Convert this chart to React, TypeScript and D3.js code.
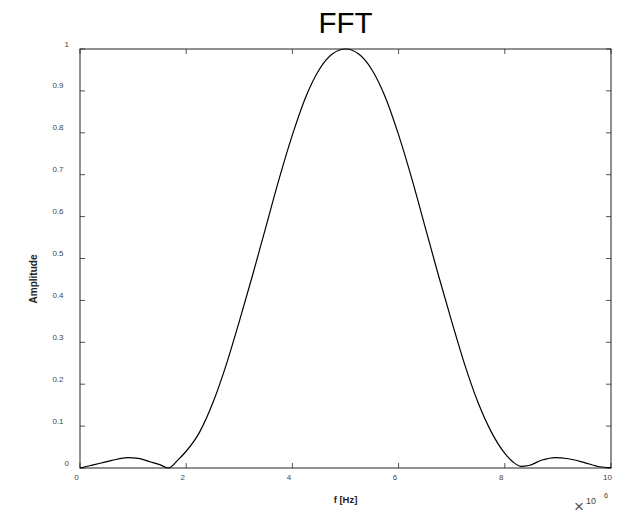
import React from "react";
import * as d3 from "d3";

const freqMHz = [0, 0.2, 0.4, 0.6, 0.9, 1.1, 1.32, 1.5, 1.67, 1.85, 2.0, 2.25, 2.5, 2.75, 3.0, 3.25, 3.5, 3.75, 4.0, 4.25, 4.5, 4.75, 5.0, 5.25, 5.5, 5.75, 6.0, 6.25, 6.5, 6.75, 7.0, 7.25, 7.5, 7.75, 8.0, 8.15, 8.3, 8.45, 8.7, 8.95, 9.2, 9.5, 9.79, 10];
const amplitude = [0, 0.006, 0.012, 0.018, 0.025, 0.023, 0.015, 0.008, 0.0, 0.02, 0.04, 0.085, 0.155, 0.245, 0.35, 0.46, 0.575, 0.69, 0.795, 0.885, 0.95, 0.988, 1.0, 0.988, 0.95, 0.885, 0.795, 0.69, 0.575, 0.46, 0.35, 0.245, 0.155, 0.085, 0.035, 0.015, 0.004, 0.006, 0.019, 0.025, 0.022, 0.013, 0.003, 0.001];
const xTicks = [0, 2, 4, 6, 8, 10];
const yTicks = [0, 0.1, 0.2, 0.3, 0.4, 0.5, 0.6, 0.7, 0.8, 0.9, 1];
const titleText = "FFT";
const xLabel = "f [Hz]";
const yLabel = "Amplitude";

export default function App() {
  const W = 633, H = 515;
  const left = 80, right = 611, top = 49, bottom = 468;
  const x = d3.scaleLinear().domain([0, 10]).range([left, right]);
  const y = d3.scaleLinear().domain([0, 1]).range([bottom, top]);
  const pts = freqMHz.map((f, i) => [f, amplitude[i]] as [number, number]);
  const line = d3.line<[number, number]>().x(d => x(d[0])).y(d => y(d[1])).curve(d3.curveMonotoneX);
  const font = "'Liberation Sans', Arial, Helvetica, sans-serif";
  const tickCol = "#555";
  return (
    <svg width={W} height={H} style={{ position: "absolute", left: 0, top: 0, background: "#fff" }} fontFamily={font}>
      <rect x={0} y={0} width={W} height={H} fill="#fff" />
      {xTicks.map(t => (
        <g key={"x" + t}>
          <line x1={x(t)} x2={x(t)} y1={bottom} y2={bottom - 5} stroke={tickCol} strokeWidth={1} />
          <line x1={x(t)} x2={x(t)} y1={top} y2={top + 5} stroke={tickCol} strokeWidth={1} />
          <text x={x(t) - 3.5} y={477} fontSize={8} fill="#444" textAnchor="middle" dominantBaseline="central">{t}</text>
        </g>
      ))}
      {yTicks.map(t => (
        <g key={"y" + t}>
          <line x1={left} x2={left + 5} y1={y(t)} y2={y(t)} stroke={tickCol} strokeWidth={1} />
          <line x1={right} x2={right - 5} y1={y(t)} y2={y(t)} stroke={tickCol} strokeWidth={1} />
          <text x={Number.isInteger(t) ? 69 : 63.5} y={y(t) - 5} fontSize={8} fill="#444" textAnchor="end" dominantBaseline="central">{t}</text>
        </g>
      ))}
      <rect x={left} y={top} width={right - left} height={bottom - top} fill="none" stroke="#222" strokeWidth={1} />
      <path d={line(pts) || ""} fill="none" stroke="#000" strokeWidth={1.2} />
      <text x={(left + right) / 2} y={33} fontSize={29.5} textAnchor="middle" fill="#000">{titleText}</text>
      <text x={(left + right) / 2} y={499} fontSize={9.5} fontWeight="bold" textAnchor="middle" dominantBaseline="central" fill="#222">{xLabel}</text>
      <text transform={`translate(33,${279}) rotate(-90)`} fontSize={10} fontWeight="bold" textAnchor="middle" dominantBaseline="central" fill="#222">{yLabel}</text>
      <text x={579} y={506} fontSize={17} textAnchor="middle" dominantBaseline="central" fill="#555">×</text>
      <text x={586} y={501} fontSize={9} dominantBaseline="central" fill="#444">10</text>
      <text x={604} y={495} fontSize={7.5} dominantBaseline="central" fill="#444">6</text>
    </svg>
  );
}
